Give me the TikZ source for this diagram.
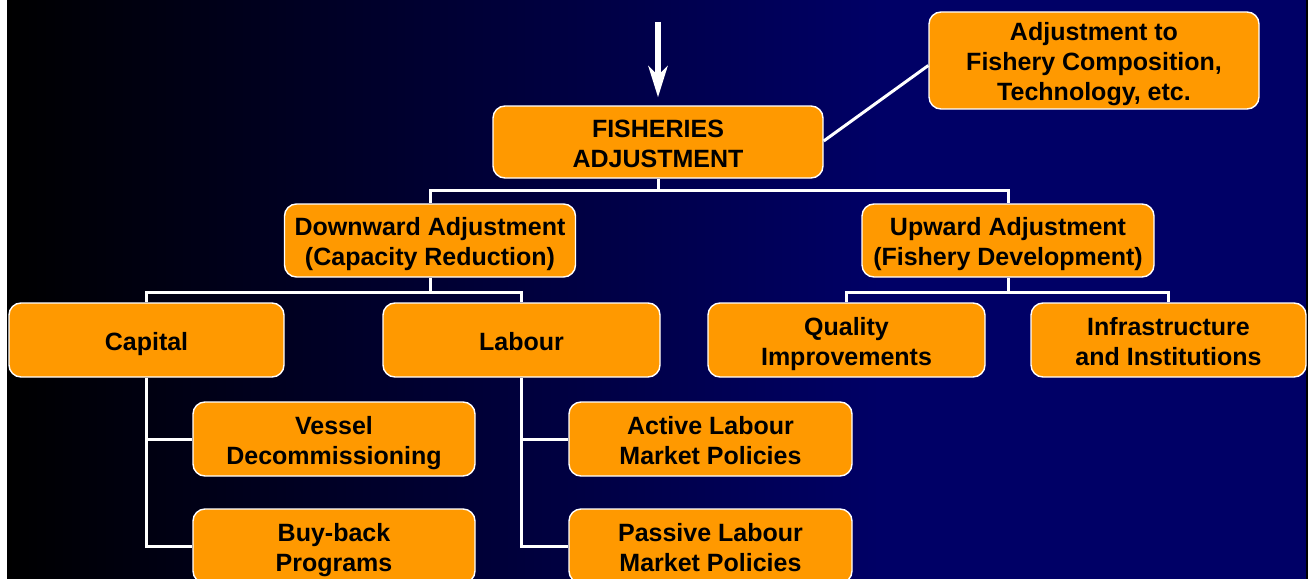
\documentclass[tikz,border=0pt]{standalone}
\usepackage{fontspec}
\setmainfont{Liberation Sans}
\usetikzlibrary{arrows.meta,calc}
\definecolor{boxorange}{RGB}{255,153,0}
\definecolor{deepnavy}{RGB}{0,0,102}
% invisible strut that fixes line height/depth inside the boxes
\newcommand\bs{\rule[-7pt]{0pt}{34pt}}
\begin{document}
\begin{tikzpicture}[x=1pt,y=-1pt,
  box/.style={draw=white, line width=1.4pt, fill=boxorange, rounded corners=12pt,
    inner sep=0pt, align=center, text=black,
    font={\fontsize{25}{30}\selectfont\bfseries},
    execute at end node=\bs},
  conn/.style={draw=white, line width=3pt},
  arr/.style={draw=white, line width=5.5pt,
    -{Stealth[length=31pt,width=19pt,inset=9pt]}}]
  % background: white margin, black-to-navy gradient
  \useasboundingbox (0,0) rectangle (1308,578);
  \fill[white] (-5,-5) rectangle (1313,583);
  \shade[left color=black, right color=deepnavy] (7,-5) rectangle (880,583);
  \fill[deepnavy] (879,-5) rectangle (1306,583);
  \fill[black] (1306,-5) rectangle (1313,583);

  % nodes
  \node[box, minimum width=330, minimum height=72] (fish) at (658,142) {\bs FISHERIES\\ADJUSTMENT};
  \node[box, minimum width=330, minimum height=97] (adj) at (1094,60.5) {\bs Adjustment to\\Fishery Composition,\\Technology, etc.};
  \node[box, minimum width=291, minimum height=73] (down) at (430,240.5) {\bs Downward Adjustment\\(Capacity Reduction)};
  \node[box, minimum width=292, minimum height=73] (up) at (1008,240.5) {\bs Upward Adjustment\\(Fishery Development)};
  \node[box, minimum width=275, minimum height=74] (cap) at (146.5,340) {\bs Capital};
  \node[box, minimum width=277, minimum height=74] (lab) at (521.5,340) {\bs Labour};
  \node[box, minimum width=277, minimum height=74] (qual) at (846.5,340) {\bs Quality\\Improvements};
  \node[box, minimum width=275, minimum height=74] (infra) at (1168.5,340) {\bs Infrastructure\\and Institutions};
  \node[box, minimum width=282, minimum height=74] (vessel) at (334,439) {\bs Vessel\\Decommissioning};
  \node[box, minimum width=282, minimum height=74] (buy) at (334,546) {\bs Buy-back\\Programs};
  \node[box, minimum width=283, minimum height=74] (active) at (710.5,439) {\bs Active Labour\\Market Policies};
  \node[box, minimum width=283, minimum height=74] (passive) at (710.5,546) {\bs Passive Labour\\Market Policies};

  % incoming arrow
  \coordinate (src) at (658,22);
  \draw[arr] (src) -- ($(fish.north)+(0,-8)$);

  % link to the side box
  \draw[conn] ($(fish.east)+(0,-1)$) -- ($(adj.west)+(0,5)$);

  % tree connectors
  \draw[conn] (fish.south) -- ++(0,12) -| (down.north);
  \draw[conn] (fish.south) ++(0,12) -| (up.north);
  \draw[conn] (down.south) -- ++(0,15) -| (cap.north);
  \draw[conn] (down.south) ++(0,15) -| (lab.north);
  \draw[conn] (up.south) -- ++(0,15) -| (qual.north);
  \draw[conn] (up.south) ++(0,15) -| (infra.north);
  \draw[conn] (cap.south) |- (vessel.west);
  \draw[conn] (cap.south) |- (buy.west);
  \draw[conn] (lab.south) |- (active.west);
  \draw[conn] (lab.south) |- (passive.west);
\end{tikzpicture}
\end{document}
